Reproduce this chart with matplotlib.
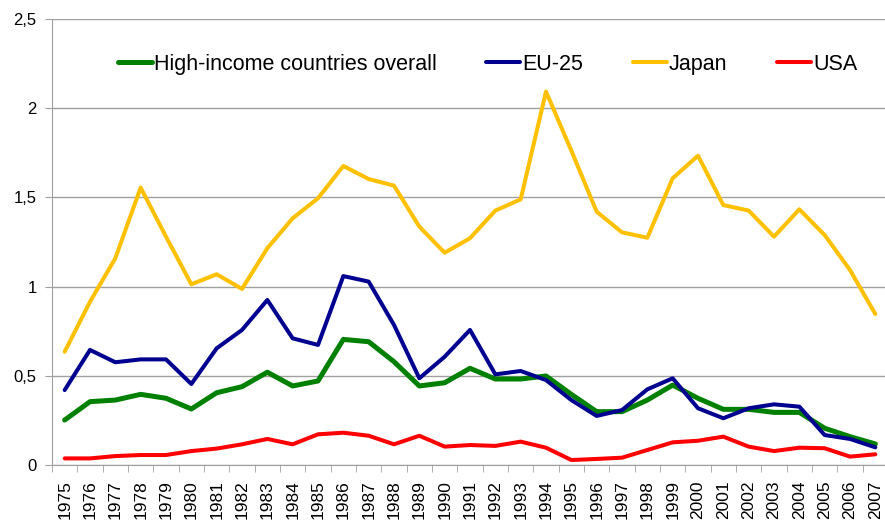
import numpy as np
import matplotlib
matplotlib.use("Agg")
import matplotlib.pyplot as plt
from matplotlib.ticker import FuncFormatter

plt.rcParams["font.family"] = ["Liberation Sans", "DejaVu Sans"]

years = list(range(1975, 2008))

high_income = [0.252, 0.355, 0.364, 0.396, 0.374, 0.314, 0.405, 0.439, 0.520, 0.443,
               0.471, 0.704, 0.691, 0.579, 0.443, 0.461, 0.542, 0.482, 0.482, 0.499,
               0.396, 0.299, 0.299, 0.364, 0.448, 0.374, 0.312, 0.312, 0.295, 0.295,
               0.206, 0.159, 0.118]
eu25 = [0.420, 0.645, 0.576, 0.592, 0.592, 0.454, 0.654, 0.757, 0.925, 0.710,
        0.673, 1.059, 1.028, 0.785, 0.486, 0.607, 0.757, 0.508, 0.527, 0.476,
        0.364, 0.275, 0.308, 0.424, 0.486, 0.318, 0.262, 0.318, 0.340, 0.327,
        0.168, 0.146, 0.099]
japan = [0.635, 0.915, 1.159, 1.555, 1.280, 1.013, 1.069, 0.987, 1.215, 1.383,
         1.495, 1.676, 1.603, 1.566, 1.336, 1.190, 1.271, 1.426, 1.489, 2.093,
         1.762, 1.420, 1.304, 1.274, 1.607, 1.734, 1.457, 1.426, 1.280, 1.433,
         1.289, 1.093, 0.846]
usa = [0.037, 0.037, 0.050, 0.056, 0.056, 0.078, 0.092, 0.116, 0.146, 0.116,
       0.172, 0.181, 0.164, 0.116, 0.164, 0.103, 0.112, 0.107, 0.131, 0.097,
       0.028, 0.034, 0.041, 0.084, 0.127, 0.136, 0.159, 0.103, 0.078, 0.097,
       0.094, 0.047, 0.060]

series = [
    ("High-income countries overall", high_income, "#008000", 3.6),
    ("EU-25", eu25, "#000090", 2.9),
    ("Japan", japan, "#FFC000", 2.9),
    ("USA", usa, "#FF0000", 2.9),
]

fig = plt.figure(figsize=(8.85, 5.25), dpi=100)
ax = fig.add_axes([52 / 885, 1 - 465 / 525, 836 / 885, 446 / 525])

x = np.arange(len(years))
for name, vals, col, lw in series:
    ax.plot(x, vals, color=col, lw=lw, label=name, solid_capstyle="round",
            solid_joinstyle="round")

ax.set_xlim(-0.5, len(years) - 0.5)
ax.set_ylim(0, 2.5)
ax.set_yticks(np.arange(0, 2.51, 0.5))
ax.yaxis.set_major_formatter(FuncFormatter(lambda v, p: f"{v:g}".replace(".", ",")))
ax.grid(axis="y", color="#A0A0A0", lw=1)
ax.set_axisbelow(True)

ax.set_xticks(x)
ax.set_xticklabels([str(y) for y in years], rotation=90, fontsize=12.5)
ax.set_xticks(np.arange(-0.5, len(years), 1), minor=True)
ax.tick_params(axis="x", which="major", length=0, pad=11)
ax.tick_params(axis="x", which="minor", length=5, color="#A0A0A0")
ax.tick_params(axis="y", length=5, color="#A0A0A0", labelsize=12, pad=6)

for s in ["top", "right"]:
    ax.spines[s].set_visible(False)
for s in ["left", "bottom"]:
    ax.spines[s].set_color("#A0A0A0")

ax.legend(loc="center", bbox_to_anchor=(0.521, 0.899), ncol=4, frameon=False,
          fontsize=15.5, handlelength=1.58, handletextpad=0.1, columnspacing=2.3)

fig.savefig("out.png", dpi=100)
